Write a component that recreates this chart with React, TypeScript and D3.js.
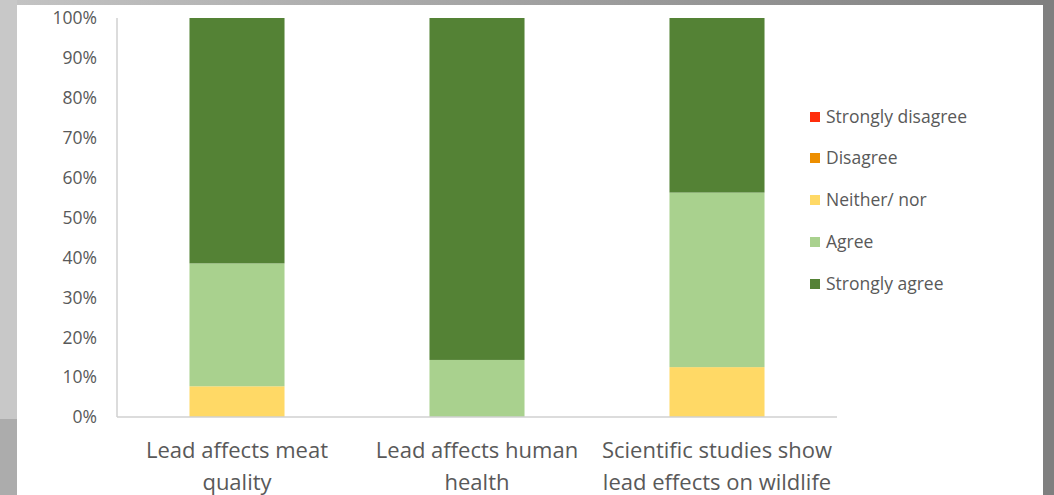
import React from "react";
import * as d3 from "d3";

const categories = [
  ["Lead affects meat", "quality"],
  ["Lead affects human", "health"],
  ["Scientific studies show", "lead effects on wildlife"],
];
const seriesNames = ["Strongly disagree", "Disagree", "Neither/ nor", "Agree", "Strongly agree"];
const seriesColors = ["#ff2d0b", "#ed8e00", "#ffd966", "#a9d18e", "#548235"];
const stronglyDisagree = [0, 0, 0];
const disagree = [0, 0, 0];
const neitherNor = [0.077, 0, 0.125];
const agree = [0.308, 0.143, 0.4375];
const stronglyAgree = [0.615, 0.857, 0.4375];
const yTicks = [0, 0.1, 0.2, 0.3, 0.4, 0.5, 0.6, 0.7, 0.8, 0.9, 1];

export default function App() {
  const W = 1054, H = 495;
  const x0 = 117, x1 = 837, yTop = 18, yBot = 417;
  const x = d3.scaleBand().domain(categories.map((c, i) => String(i))).range([x0, x1]).paddingInner(0.604).paddingOuter(0.302);
  const y = d3.scaleLinear().domain([0, 1]).range([yBot, yTop]);
  const rows = categories.map((c, i) => ({
    key: String(i),
    s0: stronglyDisagree[i], s1: disagree[i], s2: neitherNor[i], s3: agree[i], s4: stronglyAgree[i],
  }));
  const order = ["s2", "s1", "s0", "s3", "s4"];
  const stack = d3.stack<any>().keys(order)(rows);
  const colorFor: Record<string, string> = { s0: seriesColors[0], s1: seriesColors[1], s2: seriesColors[2], s3: seriesColors[3], s4: seriesColors[4] };
  const font = "'Open Sans', sans-serif";
  const legendY = [117, 158, 200, 242, 284];
  return (
    <svg width={W} height={H} style={{ position: "absolute", left: 0, top: 0 }}>
      <defs>
        <linearGradient id="topg" x1="0" x2="1" y1="0" y2="0">
          <stop offset="0" stopColor="#c4c4c4" />
          <stop offset="1" stopColor="#7f7f7f" />
        </linearGradient>
      </defs>
      <rect x={0} y={0} width={W} height={H} fill="url(#topg)" />
      <rect x={0} y={0} width={17} height={419} fill="#c8c8c8" />
      <rect x={0} y={419} width={17} height={H - 419} fill="#acacac" />
      <rect x={1043} y={0} width={11} height={H} fill="#7f7f7f" />
      <rect x={17} y={5} width={1026} height={H - 5} fill="#ffffff" />
      {stack.map((layer) =>
        layer.map((d, i) => {
          const h = y(d[0]) - y(d[1]);
          if (h <= 0) return null;
          return (
            <rect key={layer.key + i} x={x(String(i))} y={y(d[1])} width={x.bandwidth()} height={h}
              fill={colorFor[layer.key]} />
          );
        })
      )}
      <line x1={x0} x2={x0} y1={yTop} y2={yBot} stroke="#d0d0d0" strokeWidth={1.5} />
      <line x1={x0} x2={x1} y1={yBot} y2={yBot} stroke="#d0d0d0" strokeWidth={1.5} />
      {yTicks.map((t) => (
        <text key={t} x={97} y={y(t)} dy="0.36em" textAnchor="end" fontFamily={font} fontSize={17.5} fill="#595959">
          {d3.format(".0%")(t)}
        </text>
      ))}
      {categories.map((c, i) => (
        <text key={i} textAnchor="middle" fontFamily={font} fontSize={22} fill="#595959">
          {c.map((line, j) => (
            <tspan key={j} x={(x(String(i)) as number) + x.bandwidth() / 2} y={458 + j * 32}>{line}</tspan>
          ))}
        </text>
      ))}
      {seriesNames.map((n, i) => (
        <g key={n}>
          <rect x={810} y={legendY[i] - 5} width={10} height={10} fill={seriesColors[i]} />
          <text x={826} y={legendY[i]} dy="0.36em" fontFamily={font} fontSize={17.5} fill="#595959">{n}</text>
        </g>
      ))}
    </svg>
  );
}
